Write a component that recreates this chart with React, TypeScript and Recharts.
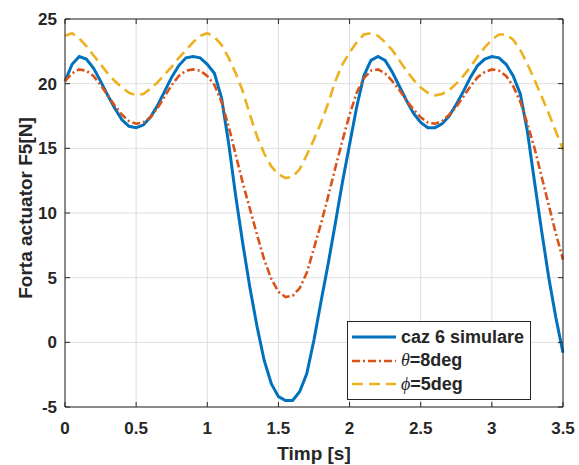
import React from "react";
import { LineChart, Line, XAxis, YAxis, CartesianGrid, Legend } from "recharts";

// timp [s]
const timp = [
  0, 0.05, 0.1, 0.15, 0.2, 0.25, 0.3, 0.35, 0.4, 0.45, 0.5, 0.55, 0.6, 0.65, 0.7, 0.75,
  0.8, 0.85, 0.9, 0.95, 1, 1.05, 1.1, 1.15, 1.2, 1.25, 1.3, 1.35, 1.4, 1.45, 1.5, 1.55,
  1.6, 1.65, 1.7, 1.75, 1.8, 1.85, 1.9, 1.95, 2, 2.05, 2.1, 2.15, 2.2, 2.25, 2.3, 2.35,
  2.4, 2.45, 2.5, 2.55, 2.6, 2.65, 2.7, 2.75, 2.8, 2.85, 2.9, 2.95, 3, 3.05, 3.1, 3.15,
  3.2, 3.25, 3.3, 3.35, 3.4, 3.45, 3.5,
];

// caz 6 simulare
const caz6 = [
  20.2, 21.5, 22.1, 21.9, 21.2, 20.2, 19.1, 18.1, 17.2, 16.7, 16.6, 16.8, 17.4, 18.3, 19.4, 20.5,
  21.4, 22.0, 22.1, 22.0, 21.5, 20.8, 18.9, 15.4, 11.3, 7.6, 4.2, 1.2, -1.4, -3.2, -4.2, -4.5,
  -4.5, -3.8, -2.4, 0.2, 3.2, 6.1, 9.2, 12.4, 15.3, 18.2, 20.6, 21.8, 22.1, 21.8, 20.9, 19.8,
  18.7, 17.7, 17.0, 16.6, 16.6, 16.9, 17.5, 18.4, 19.4, 20.5, 21.4, 21.9, 22.1, 22.0, 21.5, 20.6,
  19.2, 16.3, 12.4, 8.6, 5.0, 1.9, -0.8,
];

// theta = 8deg
const theta8 = [
  20.2, 20.8, 21.1, 21.0, 20.6, 19.9, 19.1, 18.3, 17.6, 17.1, 16.9, 17.0, 17.4, 18.1, 19.0, 19.9,
  20.6, 21.0, 21.1, 21.0, 20.6, 19.9, 18.6, 16.7, 14.5, 12.3, 10.3, 8.3, 6.4, 4.9, 3.9, 3.5,
  3.6, 4.2, 5.4, 7.3, 9.2, 11.3, 13.5, 15.6, 17.6, 19.3, 20.4, 21.0, 21.1, 20.8, 20.2, 19.5,
  18.7, 18.0, 17.4, 17.0, 16.9, 17.1, 17.6, 18.2, 19.0, 19.8, 20.5, 20.9, 21.1, 21.0, 20.6, 19.8,
  18.6, 16.9, 15.0, 12.8, 10.6, 8.4, 6.4,
];

// phi = 5deg
const phi5 = [
  23.7, 23.9, 23.5, 22.9, 22.2, 21.5, 20.8, 20.2, 19.7, 19.3, 19.1, 19.2, 19.6, 20.1, 20.7, 21.3,
  22.0, 22.6, 23.2, 23.7, 23.9, 23.6, 23.0, 22.0, 20.8, 19.4, 17.6, 15.9, 14.6, 13.6, 13.0, 12.7,
  12.8, 13.4, 14.5, 15.7, 17.0, 18.5, 20.2, 21.5, 22.4, 23.2, 23.8, 23.9, 23.7, 23.2, 22.6, 21.8,
  21.0, 20.3, 19.7, 19.3, 19.1, 19.2, 19.5, 20.0, 20.6, 21.3, 22.1, 22.8, 23.4, 23.8, 23.8, 23.4,
  22.6, 21.5, 20.3, 19.0, 17.7, 16.3, 14.9,
];

const xTicks = [0, 0.5, 1, 1.5, 2, 2.5, 3, 3.5];
const yTicks = [-5, 0, 5, 10, 15, 20, 25];
const X_MIN = 0, X_MAX = 3.5, Y_MIN = -5, Y_MAX = 25;

const data = timp.map((t, i) => ({ t, caz6: caz6[i], theta8: theta8[i], phi5: phi5[i] }));

const FONT = '"Liberation Sans", Arial, Helvetica, sans-serif';
const INK = "#262626";

// plot box (chart margins + axis sizes)
const W = 579, H = 465;
const M = { top: 19, right: 16, bottom: 18, left: 5 };
const Y_AXIS_W = 60, X_AXIS_H = 40;
const PLOT = {
  left: M.left + Y_AXIS_W,
  top: M.top,
  width: W - M.left - Y_AXIS_W - M.right,
  height: H - M.top - M.bottom - X_AXIS_H,
};

const series = [
  { key: "caz6", color: "#0072BD", width: 3, dash: undefined as string | undefined },
  { key: "theta8", color: "#D95319", width: 2.6, dash: "8 3 2 3" },
  { key: "phi5", color: "#EDB120", width: 2.6, dash: "11 6" },
];

const greek = (ch: string) => (
  <span style={{ fontFamily: '"Liberation Serif", "Times New Roman", serif', fontStyle: "italic", fontWeight: "normal" }}>{ch}</span>
);

const legendLabels: Record<string, React.ReactNode> = {
  caz6: "caz 6 simulare",
  theta8: <>{greek("θ")}=8deg</>,
  phi5: <>{greek("ϕ")}=5deg</>,
};

const LegendBox = () => (
  <div
    style={{
      position: "relative",
      width: 184,
      height: 79,
      boxSizing: "border-box",
      border: `1px solid ${INK}`,
      background: "#fff",
      fontFamily: FONT,
      fontWeight: "bold",
      fontSize: 18,
      color: INK,
    }}
  >
    {series.map((s, i) => (
      <div key={s.key} style={{ position: "absolute", left: 4, top: 3 + i * 23.5, height: 24, display: "flex", alignItems: "center" }}>
        <svg width={44} height={10} style={{ display: "block" }}>
          <line x1={0} y1={5} x2={44} y2={5} stroke={s.color} strokeWidth={s.width} strokeDasharray={s.dash} />
        </svg>
        <span style={{ marginLeft: 5, whiteSpace: "nowrap" }}>{legendLabels[s.key]}</span>
      </div>
    ))}
  </div>
);

// top and right edges of the axes box, with inward ticks (MATLAB style)
const BoxFrame = () => {
  const w = PLOT.width, h = PLOT.height;
  return (
    <svg
      width={w + 2}
      height={h + 2}
      style={{ position: "absolute", left: PLOT.left - 1, top: PLOT.top - 1, pointerEvents: "none" }}
    >
      <g transform="translate(1,1)">
        <line x1={0} y1={0} x2={w} y2={0} stroke={INK} strokeWidth={1} />
        <line x1={w} y1={0} x2={w} y2={h} stroke={INK} strokeWidth={1} />
        {xTicks.map((t) => {
          const x = ((t - X_MIN) / (X_MAX - X_MIN)) * w;
          return <line key={`tx${t}`} x1={x} y1={0} x2={x} y2={5} stroke={INK} strokeWidth={1} />;
        })}
        {yTicks.map((v) => {
          const y = ((Y_MAX - v) / (Y_MAX - Y_MIN)) * h;
          return <line key={`ty${v}`} x1={w} y1={y} x2={w - 5} y2={y} stroke={INK} strokeWidth={1} />;
        })}
      </g>
    </svg>
  );
};

export default function App() {
  const tickStyle = { fill: INK, fontSize: 17, fontWeight: "bold", fontFamily: FONT };
  return (
    <div style={{ position: "absolute", left: 0, top: 0, width: W, height: H, background: "#fff" }}>
      <LineChart width={W} height={H} data={data} margin={M}>
        <CartesianGrid stroke="#dedede" strokeWidth={1} />
        <XAxis
          dataKey="t"
          type="number"
          domain={[X_MIN, X_MAX]}
          ticks={xTicks}
          interval={0}
          height={X_AXIS_H}
          stroke={INK}
          tickSize={-5}
          tickMargin={20}
          tick={tickStyle}
          label={() => (
            <text x={314} y={460} textAnchor="middle" fill={INK} fontSize={19} fontWeight="bold" fontFamily={FONT}>
              Timp [s]
            </text>
          )}
        />
        <YAxis
          type="number"
          domain={[Y_MIN, Y_MAX]}
          ticks={yTicks}
          interval={0}
          width={Y_AXIS_W}
          stroke={INK}
          tickSize={-5}
          tickMargin={13}
          tick={tickStyle}
          allowDataOverflow
          label={() => (
            <text
              x={32}
              y={208}
              transform="rotate(-90 32 208)"
              textAnchor="middle"
              fill={INK}
              fontSize={19}
              fontWeight="bold"
              fontFamily={FONT}
            >
              Forta actuator F5[N]
            </text>
          )}
        />
        {series.map((s) => (
          <Line
            key={s.key}
            type="linear"
            dataKey={s.key}
            stroke={s.color}
            strokeWidth={s.width}
            strokeDasharray={s.dash}
            dot={false}
            activeDot={false}
            isAnimationActive={false}
          />
        ))}
        <Legend
          layout="horizontal"
          align="center"
          verticalAlign="middle"
          content={() => <LegendBox />}
          wrapperStyle={{ left: 347, top: 321, width: 184, height: 79 }}
        />
      </LineChart>
      <BoxFrame />
    </div>
  );
}
